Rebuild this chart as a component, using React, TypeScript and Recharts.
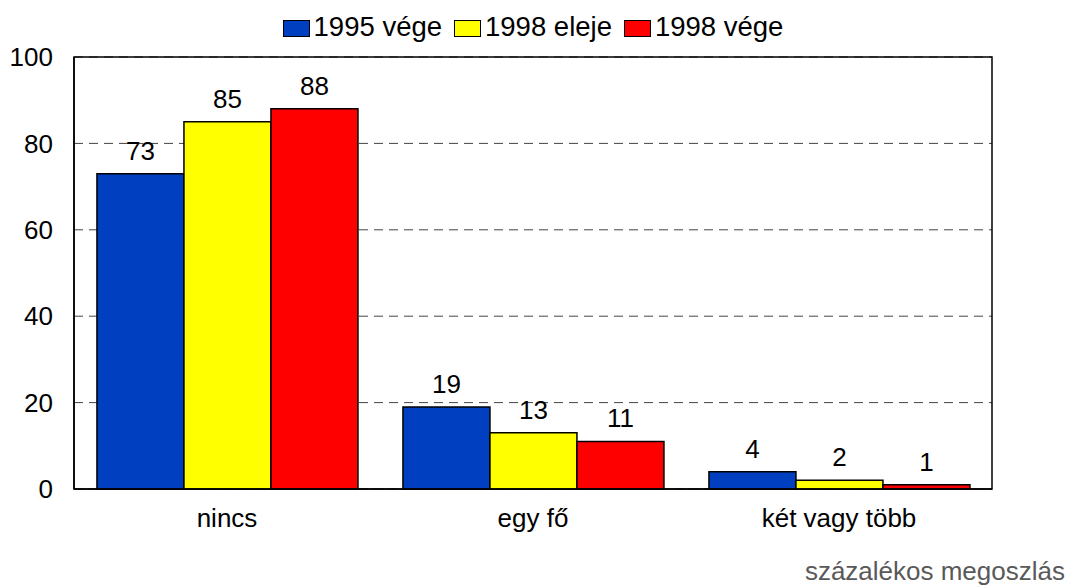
import {
  BarChart, Bar, XAxis, YAxis, CartesianGrid, LabelList, ReferenceArea,
} from 'recharts';

const categories = ['nincs', 'egy fő', 'két vagy több'];
const seriesNames = ['1995 vége', '1998 eleje', '1998 vége'];
const v1995end = [73, 19, 4];
const v1998start = [85, 13, 2];
const v1998end = [88, 11, 1];
const yTicks = [0, 20, 40, 60, 80, 100];
const colors = ['#0040C0', '#FFFF00', '#FF0000'];

const data = categories.map((name, i) => ({
  name,
  s0: v1995end[i],
  s1: v1998start[i],
  s2: v1998end[i],
}));

const FONT = '"Liberation Sans", Arial, sans-serif';

// legend drawn as plain html so it doesn't push the plot down
function LegendBox() {
  return (
    <div style={{ position: 'absolute', top: 13, left: 74, width: 918, display: 'flex', justifyContent: 'center', fontFamily: FONT, fontSize: 27.5, lineHeight: '28px', color: '#000' }}>
      {seriesNames.map((n, i) => (
        <div key={n} style={{ display: 'flex', alignItems: 'center', marginRight: i < 2 ? 12 : 0 }}>
          <span style={{ width: 25, height: 15, background: colors[i], border: '1.5px solid #000', marginRight: 4, marginTop: 2 }} />
          <span>{n}</span>
        </div>
      ))}
    </div>
  );
}

export default function App() {
  return (
    <div style={{ position: 'absolute', left: 0, top: 0, width: 1073, height: 588, background: '#fff' }}>
      <BarChart
        width={1073}
        height={588}
        data={data}
        margin={{ top: 57, right: 81, left: 0, bottom: 69 }}
        barCategoryGap="7.5%"
        barGap={0}
      >
        <CartesianGrid vertical={false} stroke="#444" strokeDasharray="9 6" />
        <XAxis
          dataKey="name"
          height={30}
          tickLine={false}
          tickSize={0}
          tickMargin={20}
          axisLine={{ stroke: '#000', strokeWidth: 1.5 }}
          tick={{ fill: '#000', fontSize: 26, fontFamily: FONT }}
        />
        <YAxis
          width={74}
          domain={[0, 100]}
          ticks={yTicks}
          tickLine={false}
          tickSize={0}
          tickMargin={21}
          axisLine={{ stroke: '#000', strokeWidth: 1.5 }}
          tick={{ fill: '#000', fontSize: 26, fontFamily: FONT }}
        />
        <ReferenceArea y1={0} y2={100} fill="none" stroke="#000" strokeWidth={1.5} />
        {['s0', 's1', 's2'].map((k, i) => (
          <Bar key={k} dataKey={k} name={seriesNames[i]} fill={colors[i]} stroke="#000" strokeWidth={1.5} isAnimationActive={false}>
            <LabelList dataKey={k} position="top" offset={14} fill="#000" fontSize={26} fontFamily={FONT} />
          </Bar>
        ))}
      </BarChart>
      <LegendBox />
      <div style={{ position: 'absolute', right: 8, top: 558, fontFamily: FONT, fontSize: 26, lineHeight: '26px', color: '#595959' }}>
        százalékos megoszlás
      </div>
    </div>
  );
}
